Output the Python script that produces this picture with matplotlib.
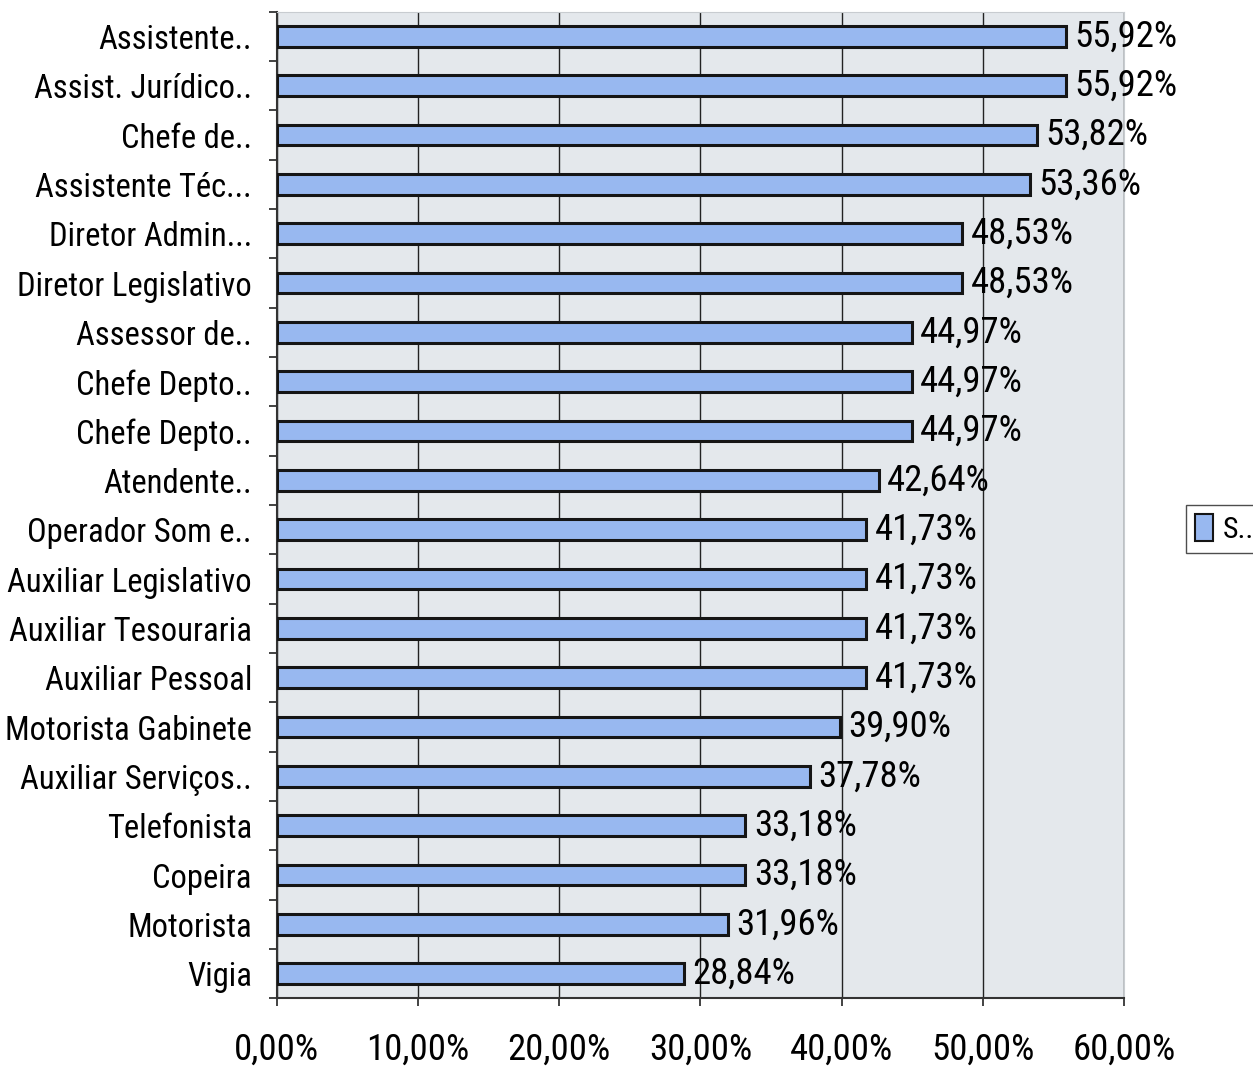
import matplotlib
matplotlib.use("Agg")
import matplotlib.pyplot as plt
from matplotlib import font_manager
from matplotlib.patches import Patch
import numpy as np

categories = ["Assistente..", "Assist. Jurídico..", "Chefe de..", "Assistente Téc...",
              "Diretor Admin...", "Diretor Legislativo", "Assessor de..", "Chefe Depto..",
              "Chefe Depto..", "Atendente..", "Operador Som e..", "Auxiliar Legislativo",
              "Auxiliar Tesouraria", "Auxiliar Pessoal", "Motorista Gabinete",
              "Auxiliar Serviços..", "Telefonista", "Copeira", "Motorista", "Vigia"]
values = [55.92, 55.92, 53.82, 53.36, 48.53, 48.53, 44.97, 44.97, 44.97, 42.64,
          41.73, 41.73, 41.73, 41.73, 39.90, 37.78, 33.18, 33.18, 31.96, 28.84]
xticks = [0, 10, 20, 30, 40, 50, 60]
legend_label = "S.."

# pick a narrow font if one is installed
fonts = font_manager.fontManager.ttflist
names = {f.name for f in fonts}
narrow = None
for cand in ["Liberation Sans Narrow", "Arial Narrow", "Roboto Condensed", "Open Sans Condensed"]:
    if cand in names:
        narrow = cand
        break
stretch = "normal"
if narrow is None:
    cond = [f for f in fonts if f.name == "DejaVu Sans" and str(f.stretch) in ("condensed", "semi-condensed", "75", "87.5")]
    if cond:
        narrow = "DejaVu Sans"
        stretch = "condensed"
if narrow is None:
    narrow = "Liberation Sans"
    fs_cat, fs_val = 20, 22
else:
    fs_cat, fs_val = 23.5, 26.5
plt.rcParams['font.family'] = [narrow, "DejaVu Sans"]
plt.rcParams['font.stretch'] = stretch

fig = plt.figure(figsize=(12.53, 10.69), dpi=100)
ax = fig.add_axes([0.221, 0.066, 0.676, 0.923])
ax.set_facecolor("#e4e8ec")

n = len(categories)
y = np.arange(n)
ax.barh(y, values, height=0.42, color="#98b8f0", edgecolor="#151515", linewidth=2.2, zorder=3)
ax.set_ylim(n - 0.5, -0.5)
ax.set_xlim(0, 60)
ax.set_yticks(y)
ax.set_yticklabels(categories, fontsize=fs_cat)
ax.set_yticks(np.arange(-0.5, n, 1), minor=True)
ax.tick_params(axis='y', which='major', length=0, pad=18)
ax.tick_params(axis='y', which='minor', length=6, width=1.2, color="#222222")
ax.set_xticks(xticks)
ax.set_xticklabels([f"{v:.2f}%".replace(".", ",") for v in xticks], fontsize=fs_val)
ax.tick_params(axis='x', length=6, width=1.2, pad=18, color="#222222")
ax.grid(axis='x', color="#222222", linewidth=1.0, zorder=1)
for s in ["top", "right"]:
    ax.spines[s].set_color("#c8ccd0")
for s in ["left", "bottom"]:
    ax.spines[s].set_color("#333333")
    ax.spines[s].set_linewidth(1.5)

for yi, v in zip(y, values):
    ax.text(v + 0.6, yi, f"{v:.2f}%".replace(".", ","), va='center', ha='left', fontsize=fs_val, zorder=4)

leg = fig.legend(handles=[Patch(facecolor="#98b8f0", edgecolor="#151515", linewidth=1.5)],
                 labels=[legend_label], loc='center left', bbox_to_anchor=(0.935, 0.505),
                 fontsize=fs_cat - 2, frameon=True, fancybox=False, edgecolor="#222222",
                 handlelength=0.6, handleheight=1.0, handletextpad=0.3, borderpad=0.3)

fig.savefig("out.png", dpi=100, facecolor="white")
